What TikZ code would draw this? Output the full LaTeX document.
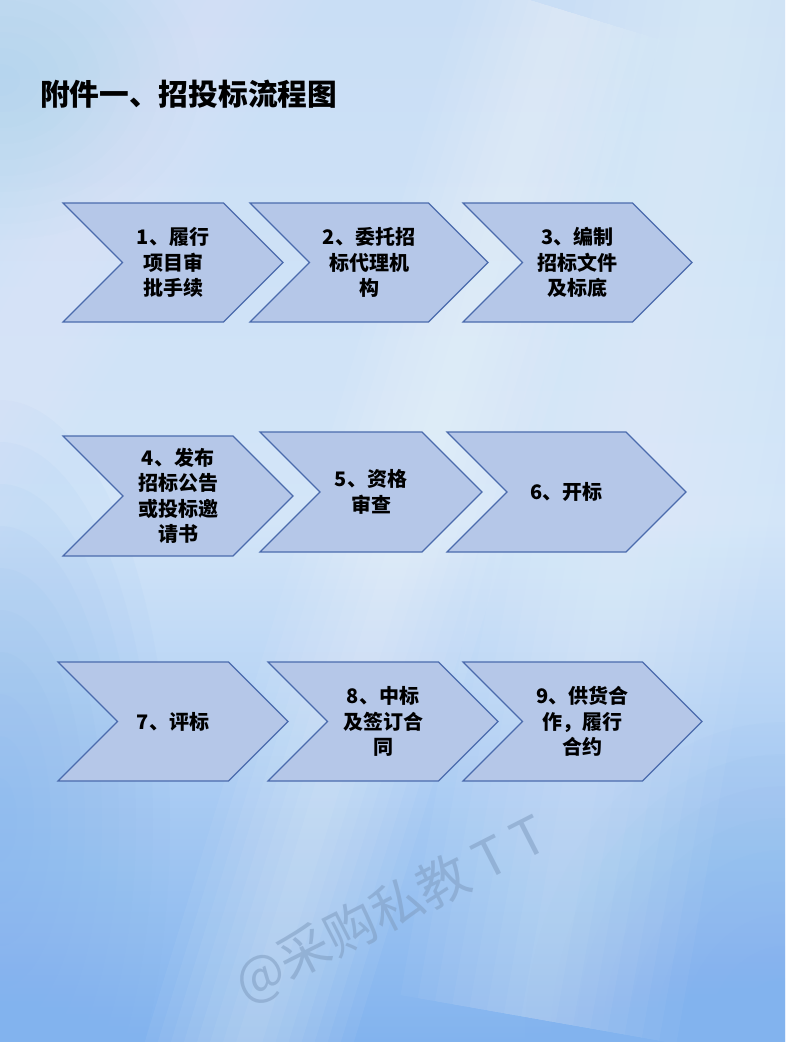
\documentclass[tikz,border=0pt]{standalone}
\usepackage{fontspec}
\newfontfamily\cjk{Noto Sans CJK SC}
\definecolor{chevfill}{HTML}{B5C7E8}
\definecolor{chevline}{HTML}{4B6BAD}
\definecolor{bgtop}{HTML}{C9DEF5}
\definecolor{bgmid}{HTML}{D3E5F8}
\definecolor{bgbot}{HTML}{82B3EE}
\definecolor{wmcol}{HTML}{7F9CC0}
\newcommand{\mychev}[6]{%
  \path[chevshape] (#2,#3) -- ({#4-(#5-#3)/2},#3) -- (#4,{(#3+#5)/2})
    -- ({#4-(#5-#3)/2},#5) -- (#2,#5) -- ({#2+(#5-#3)/2},{(#3+#5)/2}) -- cycle;
  \node[chevtext] (#1) at ({(#2+#4)/2},{(#3+#5)/2}) {#6};
}
\newcommand{\bgband}[7]{% cx, cy, angle, width, length, colour, opacity
  \begin{scope}[shift={(#1,#2)}, rotate=#3]
    \foreach \k in {1,...,8}{
      \fill[#6, fill opacity={#7/5}] ({-#4*\k/16},{-#5/2}) rectangle ({#4*\k/16},{#5/2});
    }
  \end{scope}
}
\newcommand{\bgblob}[6]{% cx, cy, rx, ry, colour, opacity
  \foreach \k in {1,...,10}{
    \fill[#5, fill opacity={#6/6}] (#1,#2) ellipse [x radius={#3*\k/10}, y radius={#4*\k/10}];
  }
}
\begin{document}
\begin{tikzpicture}[x=1pt,y=-1pt,
  chevshape/.style={fill=chevfill, draw=chevline, line width=1.2pt, line join=miter},
  chevtext/.style={font=\cjk\bfseries\fontsize{20}{25.5}\selectfont, align=center, text=black, inner sep=0pt}]
\useasboundingbox (0,0) rectangle (785,1042);
% background
\begin{scope}
\clip (0,0) rectangle (785,1042);
\fill[top color=bgtop, bottom color=bgbot, middle color=bgmid] (0,0) rectangle (785,1042);
\bgblob{0}{820}{170}{420}{bgbot}{0.35}
\bgblob{785}{1042}{260}{320}{bgbot}{0.3}
\bgblob{0}{80}{200}{160}{bgbot}{0.12}
\bgband{360}{680}{-17}{200}{1400}{white}{0.25}
\bgband{660}{330}{-10}{280}{1400}{white}{0.2}
\bgband{150}{120}{-30}{180}{900}{white}{0.12}
\end{scope}
% title
\node[anchor=west, inner sep=0pt, font=\cjk\bfseries\fontsize{29.7}{30}\selectfont] (title) at (40,94) {附件一、招投标流程图};
% row 1
\mychev{c1}{63}{203}{283}{322}{1、履行\\项目审\\批手续}
\mychev{c2}{250}{203}{488}{322}{2、委托招\\标代理机\\构}
\mychev{c3}{463}{203}{692}{322}{3、编制\\招标文件\\及标底}
% row 2
\mychev{c4}{63}{436}{293}{556}{4、发布\\招标公告\\或投标邀\\请书}
\mychev{c5}{260}{432}{482}{552}{5、资格\\审查}
\mychev{c6}{447}{432}{686}{552}{6、开标}
% row 3
\mychev{c7}{58}{662}{288}{781}{7、评标}
\mychev{c8}{268}{662}{498}{781}{8、中标\\及签订合\\同}
\mychev{c9}{463}{662}{702}{781}{9、供货合\\作，履行\\合约}
% watermark
\node[rotate=27, inner sep=0pt, text=wmcol, text opacity=0.55, font=\cjk\fontsize{52}{52}\selectfont] (wm) at (391,910) {@采购私教 T T};
\end{tikzpicture}
\end{document}
